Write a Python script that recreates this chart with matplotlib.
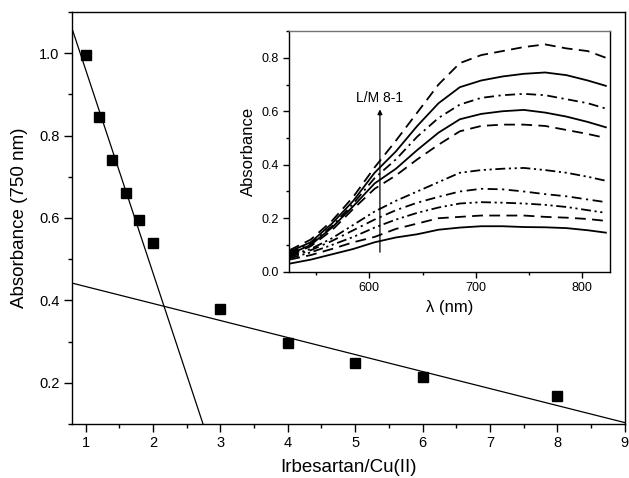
import matplotlib
matplotlib.use("Agg")
import matplotlib.pyplot as plt
from matplotlib.ticker import MultipleLocator

plt.rcParams["font.family"] = ["Liberation Sans", "DejaVu Sans"]

# main titration data
ratio = [1, 1.2, 1.4, 1.6, 1.8, 2, 3, 4, 5, 6, 8]
absorb_750 = [0.995, 0.845, 0.74, 0.661, 0.596, 0.54, 0.379, 0.297, 0.248, 0.213, 0.167]

# fitted lines (intercept, slope)
fit_steep = (1.455, -0.494)
fit_flat = (0.475, -0.0413)

# inset spectra, L/M 1 (top) ... L/M 8 (bottom)
wavelength = [525, 545, 565, 585, 605, 625, 645, 665, 685, 705, 725, 745, 765, 785, 805, 822]
spectra = [
    [0.08, 0.12, 0.19, 0.28, 0.39, 0.49, 0.595, 0.70, 0.78, 0.81, 0.825, 0.84, 0.85, 0.835, 0.825, 0.80],
    [0.075, 0.11, 0.18, 0.265, 0.37, 0.45, 0.545, 0.63, 0.69, 0.715, 0.73, 0.74, 0.745, 0.735, 0.715, 0.695],
    [0.07, 0.105, 0.17, 0.255, 0.35, 0.42, 0.505, 0.575, 0.625, 0.65, 0.66, 0.665, 0.66, 0.645, 0.63, 0.61],
    [0.065, 0.10, 0.165, 0.245, 0.33, 0.385, 0.455, 0.52, 0.57, 0.59, 0.60, 0.605, 0.595, 0.58, 0.56, 0.54],
    [0.06, 0.095, 0.155, 0.235, 0.31, 0.36, 0.42, 0.475, 0.525, 0.545, 0.55, 0.55, 0.545, 0.53, 0.515, 0.50],
    [0.06, 0.085, 0.125, 0.175, 0.225, 0.265, 0.30, 0.335, 0.37, 0.38, 0.385, 0.388, 0.38, 0.37, 0.355, 0.34],
    [0.055, 0.08, 0.115, 0.155, 0.195, 0.23, 0.258, 0.28, 0.30, 0.31, 0.308, 0.30, 0.29, 0.282, 0.27, 0.26],
    [0.05, 0.072, 0.10, 0.13, 0.165, 0.195, 0.22, 0.24, 0.255, 0.26, 0.258, 0.255, 0.25, 0.242, 0.23, 0.22],
    [0.045, 0.062, 0.085, 0.11, 0.13, 0.16, 0.18, 0.20, 0.205, 0.21, 0.21, 0.21, 0.205, 0.202, 0.197, 0.19],
    [0.03, 0.045, 0.065, 0.085, 0.11, 0.128, 0.14, 0.157, 0.165, 0.17, 0.17, 0.167, 0.166, 0.163, 0.155, 0.146],
]
dash = (0, (6, 3.5))
dashdot = (0, (5.5, 2.5, 1.2, 2.5))
dashdotdot = (0, (5.5, 2, 1.2, 2, 1.2, 2))
styles = [dash, "-", dashdot, "-", dash, dashdotdot, dashdot, dashdotdot, dash, "-"]

arrow_nm = 610
arrow_y = (0.073, 0.607)


def style_axes(ax, size, major_len, minor_len):
    for s in ax.spines.values():
        s.set_linewidth(1.0)
    ax.tick_params(which="major", direction="out", length=major_len, width=1.0,
                   labelsize=size)
    ax.tick_params(which="minor", direction="out", length=minor_len, width=1.0)


fig = plt.figure(figsize=(6.29, 4.78), dpi=100)
ax = fig.add_axes([0.1145, 0.113, 0.879, 0.862])

ax.plot(ratio, absorb_750, "s", color="black", markersize=7)
ax.axline((0, fit_steep[0]), slope=fit_steep[1], color="black", lw=0.9)
ax.axline((0, fit_flat[0]), slope=fit_flat[1], color="black", lw=0.9)

ax.set_xlim(0.8, 9)
ax.set_ylim(0.1, 1.1)
ax.xaxis.set_major_locator(MultipleLocator(1))
ax.xaxis.set_minor_locator(MultipleLocator(0.5))
ax.set_yticks([0.2, 0.4, 0.6, 0.8, 1.0])
ax.yaxis.set_minor_locator(MultipleLocator(0.1))
ax.set_xlabel("Irbesartan/Cu(II)", fontsize=13.5, labelpad=6)
ax.set_ylabel("Absorbance (750 nm)", fontsize=13.5, labelpad=8)
style_axes(ax, 10.5, 5.5, 3)

ins = fig.add_axes([0.46, 0.4316, 0.51, 0.5035])
for ys, ls in zip(spectra, styles):
    ins.plot(wavelength, ys, color="black", lw=1.3, linestyle=ls)
ins.annotate("", xy=(arrow_nm, arrow_y[1]), xytext=(arrow_nm, arrow_y[0]),
             arrowprops=dict(arrowstyle="-|>", color="black", lw=0.9,
                             mutation_scale=7, shrinkA=0, shrinkB=0))
ins.text(arrow_nm, arrow_y[1] + 0.015, "L/M 8-1", ha="center", va="bottom",
         fontsize=10)
ins.set_xlim(525, 826)
ins.set_ylim(0, 0.9)
ins.set_xticks([600, 700, 800])
ins.xaxis.set_minor_locator(MultipleLocator(50))
ins.set_yticks([0.0, 0.2, 0.4, 0.6, 0.8])
ins.yaxis.set_minor_locator(MultipleLocator(0.1))
ins.set_xlabel("λ (nm)", fontsize=12, labelpad=4)
ins.set_ylabel("Absorbance", fontsize=12, labelpad=4)
style_axes(ins, 9, 4, 2.5)
ins.spines["top"].set_color("0.45")

fig.savefig("out.png", dpi=100)
